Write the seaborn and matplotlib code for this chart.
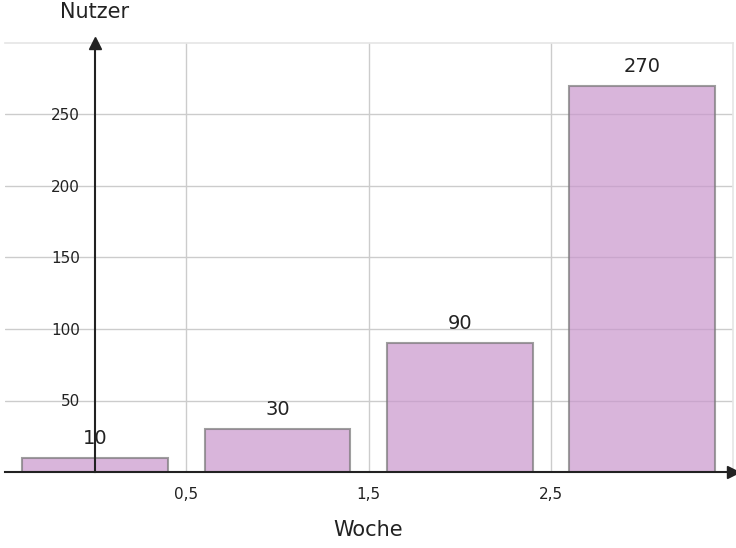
import matplotlib
matplotlib.use("Agg")
import matplotlib.pyplot as plt
import seaborn as sns
import pandas as pd

weeks = ["1", "2", "3", "4"]
users = [10, 30, 90, 270]
xtick_pos = [0.5, 1.5, 2.5]
xtick_labels = ["0,5", "1,5", "2,5"]
ytick_vals = [50, 100, 150, 200, 250]

sns.set_theme(style="white")
plt.rcParams['font.family'] = ['DejaVu Sans']
df = pd.DataFrame({"Woche": weeks, "Nutzer": users})

fig = plt.figure(figsize=(7.36, 5.48), dpi=100)
ax = fig.add_axes([5/736, 76/548, 728/736, 429/548])
sns.barplot(data=df, x="Woche", y="Nutzer", ax=ax, color="#c996cc", alpha=0.7,
            edgecolor="#777777", linewidth=1.5, width=0.8, saturation=1)
ax.set_xlim(-0.495, 3.5)
ax.set_ylim(0, 300)
ax.set_xticks(xtick_pos)
ax.set_xticklabels(xtick_labels, fontsize=13)
ax.set_yticks(ytick_vals)
ax.set_yticklabels([str(v) for v in ytick_vals], fontsize=13)
ax.grid(True, color="#cccccc", linewidth=1)
ax.set_axisbelow(True)
for s in ["top", "right"]:
    ax.spines[s].set_color("#e6e6e6")
ax.spines["left"].set_position(("data", 0))
ax.spines["bottom"].set_position(("data", 0))
for s in ["left", "bottom"]:
    ax.spines[s].set_color("#222222")
    ax.spines[s].set_linewidth(1.5)
    ax.spines[s].set_zorder(5)
ax.tick_params(axis="both", direction="inout", length=10, width=1.5, color="#222222", labelcolor="#222222")
ax.tick_params(axis="x", pad=6)
ax.tick_params(axis="y", pad=6)
ax.plot(1, 0, ">", transform=ax.get_yaxis_transform(), clip_on=False, color="#222222", ms=8, zorder=6)
ax.plot(0, 1, "^", transform=ax.get_xaxis_transform(), clip_on=False, color="#222222", ms=8, zorder=6)
ax.set_xlabel("")
ax.set_ylabel("")
for i, v in enumerate(users):
    ax.text(i, v + 7, str(v), ha="center", va="bottom", fontsize=14, color="#222222")
fig.text(95/736, 1 - 12/548, "Nutzer", ha="center", va="center", fontsize=15, color="#222222")
fig.text(368/736, 1 - 530/548, "Woche", ha="center", va="center", fontsize=15, color="#222222")
fig.savefig("out.png", dpi=100)
